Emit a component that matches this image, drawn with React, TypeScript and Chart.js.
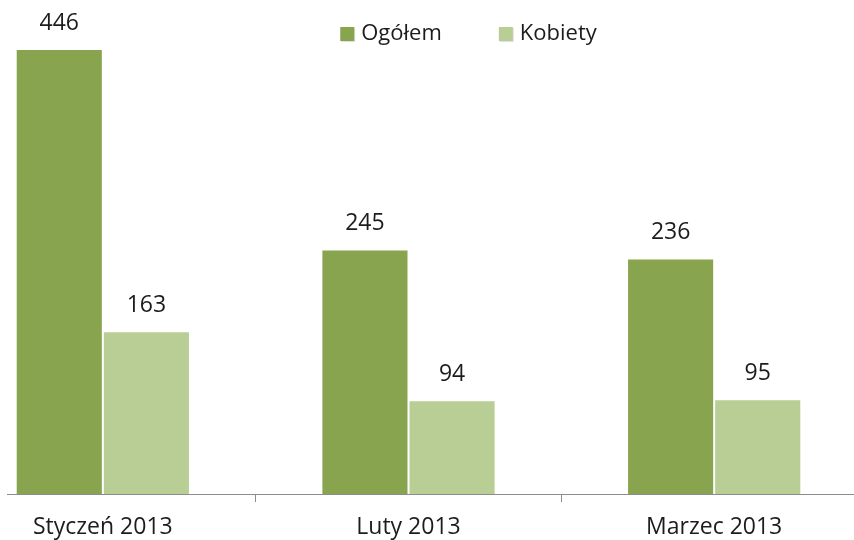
import { useEffect, useRef } from 'react';
import { Chart, registerables } from 'chart.js';

Chart.register(...registerables);

const categories = ['Styczeń 2013', 'Luty 2013', 'Marzec 2013'];
const seriesNames = ['Ogółem', 'Kobiety'];
const ogolem = [446, 245, 236];
const kobiety = [163, 94, 95];
const seriesColors = ['#88A44F', '#B9CE94'];

const FONT = '"Open Sans", sans-serif';
const TEXT = '#1c1c1c';

const valueLabels = {
  id: 'valueLabels',
  afterDatasetsDraw(chart: any) {
    const ctx = chart.ctx;
    ctx.save();
    ctx.font = `23px ${FONT}`;
    ctx.fillStyle = TEXT;
    ctx.textAlign = 'center';
    ctx.textBaseline = 'alphabetic';
    chart.data.datasets.forEach((ds: any, i: number) => {
      const meta = chart.getDatasetMeta(i);
      meta.data.forEach((bar: any, j: number) => {
        ctx.fillText(String(ds.data[j]), bar.x, bar.y - 19);
      });
    });
    ctx.restore();
  },
};

const customLegend = {
  id: 'customLegend',
  afterDraw(chart: any) {
    const ctx = chart.ctx;
    ctx.save();
    ctx.font = `22px ${FONT}`;
    ctx.textBaseline = 'alphabetic';
    ctx.textAlign = 'left';
    const box = 14;
    const gapText = 7;
    const gapItem = 57;
    const widths = chart.data.datasets.map((d: any) => ctx.measureText(d.label).width);
    const total = widths.reduce((a: number, w: number) => a + box + gapText + w, 0) + gapItem * (widths.length - 1);
    let x = chart.width / 2 + 60 - total / 2;
    const baseline = 40;
    chart.data.datasets.forEach((d: any, i: number) => {
      ctx.fillStyle = 'rgba(0,0,0,0.12)';
      ctx.fillRect(x + 1, baseline - 12, box, box);
      ctx.fillStyle = d.backgroundColor;
      ctx.fillRect(x, baseline - 13, box, box);
      ctx.fillStyle = TEXT;
      ctx.fillText(d.label, x + box + gapText, baseline);
      x += box + gapText + widths[i] + gapItem;
    });
    ctx.restore();
  },
};

export default function App() {
  const ref = useRef<HTMLCanvasElement>(null);
  useEffect(() => {
    if (!ref.current) return;
    const chart = new Chart(ref.current, {
      type: 'bar',
      data: {
        labels: categories,
        datasets: [
          {
            label: seriesNames[0],
            data: ogolem,
            backgroundColor: seriesColors[0],
            borderColor: '#ffffff',
            borderWidth: { left: 1, right: 1, top: 1, bottom: 0 },
          },
          {
            label: seriesNames[1],
            data: kobiety,
            backgroundColor: seriesColors[1],
            borderColor: '#ffffff',
            borderWidth: { left: 1, right: 1, top: 1, bottom: 0 },
          },
        ],
      },
      options: {
        animation: false,
        responsive: false,
        maintainAspectRatio: false,
        layout: { padding: 0 },
        datasets: { bar: { categoryPercentage: 0.57, barPercentage: 1 } },
        plugins: {
          legend: { display: false },
          tooltip: { enabled: false },
        },
        scales: {
          x: {
            grid: {
              display: true,
              offset: true,
              drawOnChartArea: false,
              drawTicks: true,
              tickLength: 8,
              color: '#8c8c8c',
            },
            border: { display: true, color: '#8c8c8c', width: 1 },
            ticks: {
              color: TEXT,
              font: { family: FONT, size: 23 },
              padding: 12,
              maxRotation: 0,
            },
            afterFit: (axis: any) => {
              axis.height = 46;
            },
          },
          y: {
            display: false,
            min: 0,
            max: 495,
          },
        },
      },
      plugins: [valueLabels, customLegend],
    });
    return () => chart.destroy();
  }, []);

  return (
    <div
      style={{
        position: 'absolute',
        left: 7,
        top: 0,
        width: 847,
        height: 540,
        overflow: 'hidden',
        background: '#fff',
      }}
    >
      <canvas
        ref={ref}
        width={917}
        height={540}
        style={{ position: 'absolute', left: -57, top: 0, width: 917, height: 540 }}
      />
    </div>
  );
}
